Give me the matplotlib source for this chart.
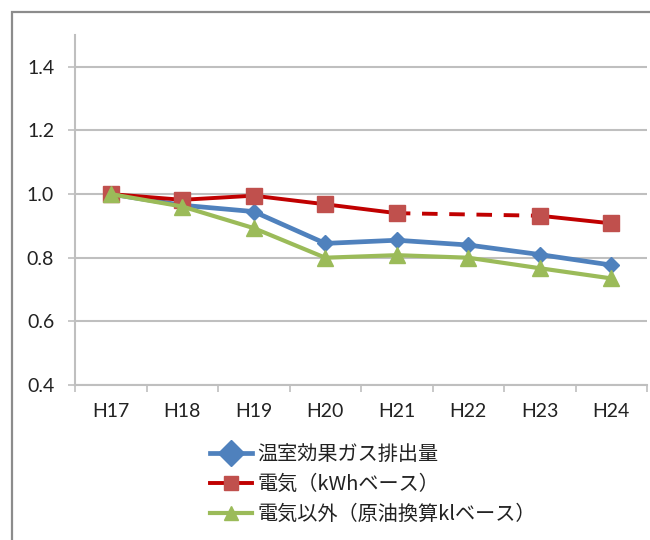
import numpy as np
import matplotlib
matplotlib.use("Agg")
import matplotlib.pyplot as plt
from matplotlib.lines import Line2D
from matplotlib.patches import Rectangle

# Fiscal years (Heisei era) and indexed values (H17 = 1.0)
years = ["H17", "H18", "H19", "H20", "H21", "H22", "H23", "H24"]
ghg = [1.000, 0.965, 0.945, 0.845, 0.855, 0.840, 0.810, 0.777]
electricity = [1.000, 0.982, 0.995, 0.968, 0.940, np.nan, 0.932, 0.908]
non_electric = [1.000, 0.961, 0.893, 0.800, 0.808, 0.800, 0.767, 0.735]

labels = ["温室効果ガス排出量", "電気（kWhベース）", "電気以外（原油換算klベース）"]
yticks = [0.4, 0.6, 0.8, 1.0, 1.2, 1.4]

BLUE = "#4F81BD"
RED_LINE = "#C00000"
RED_MARK = "#C0504D"
GREEN = "#9BBB59"
GRID = "#BFBFBF"
TEXT = "#222222"

plt.rcParams["font.family"] = ["Lato", "Noto Sans CJK JP", "DejaVu Sans"]

fig = plt.figure(figsize=(6.5, 5.4), dpi=100)
fig.patch.set_facecolor("white")

# chart frame (extends beyond the canvas on the right and bottom)
fig.patches.append(Rectangle((12 / 650, -0.05), 1.2, 1 - 12 / 540 + 0.05,
                             transform=fig.transFigure, fill=False,
                             edgecolor="#8C8C8C", linewidth=1.6, zorder=0))

ax = fig.add_axes([75 / 650, 155 / 540, 572 / 650, 350 / 540])
x = np.arange(len(years))

# GHG emissions
ax.plot(x, ghg, color=BLUE, lw=3.4, marker="D", ms=8,
        mfc=BLUE, mec=BLUE, zorder=3, solid_joinstyle="round")

# electricity: solid where data exist, dashed across the missing year
elec = np.array(electricity, dtype=float)
RED_LW = 2.8
ax.plot(x, elec, color=RED_LINE, lw=RED_LW, zorder=4, solid_joinstyle="round")
valid = np.where(~np.isnan(elec))[0]
for a, b in zip(valid[:-1], valid[1:]):
    if b - a > 1:
        ax.plot([x[a], x[b]], [elec[a], elec[b]], color=RED_LINE, lw=RED_LW,
                ls=(0.5, (4.0, 3.0)), zorder=4, dash_capstyle="butt")
ax.plot(x, elec, ls="none", marker="s", ms=11, mfc=RED_MARK, mec=RED_MARK,
        zorder=4.5)

# non-electric energy
ax.plot(x, non_electric, color=GREEN, lw=3.0, marker="^", ms=11.5,
        mfc=GREEN, mec=GREEN, zorder=5, solid_joinstyle="round")

ax.set_xlim(-0.5, len(years) - 0.5)
ax.set_ylim(0.4, 1.5)
ax.set_yticks(yticks)
ax.set_yticklabels([f"{v:.1f}" for v in yticks])
ax.set_xticks(x)
ax.set_xticklabels(years)
ax.set_xticks(np.arange(len(years) + 1) - 0.5, minor=True)

ax.grid(axis="y", color=GRID, lw=1.5, zorder=0)
ax.set_axisbelow(True)
for s in ("top", "right"):
    ax.spines[s].set_visible(False)
for s in ("left", "bottom"):
    ax.spines[s].set_color(GRID)
    ax.spines[s].set_linewidth(1.5)

ax.tick_params(axis="y", direction="out", length=5, width=1.2, color=GRID,
               pad=10, labelsize=14, labelcolor=TEXT)
ax.tick_params(axis="x", which="major", length=0, pad=13, labelsize=14,
               labelcolor=TEXT)
ax.tick_params(axis="x", which="minor", direction="out", length=5,
               width=1.2, color=GRID)

handles = [
    Line2D([], [], color=BLUE, lw=3.4, marker="D", ms=13, mfc=BLUE, mec=BLUE),
    Line2D([], [], color=RED_LINE, lw=RED_LW, marker="s", ms=10,
           mfc=RED_MARK, mec=RED_MARK),
    Line2D([], [], color=GREEN, lw=3.0, marker="^", ms=10, mfc=GREEN,
           mec=GREEN),
]
fig.legend(handles, labels, loc="upper left",
           bbox_to_anchor=(210 / 650, 1 - 444 / 540), frameon=False,
           prop={"family": ["Noto Sans CJK JP", "DejaVu Sans"], "size": 14.5},
           handlelength=2.1, handletextpad=0.25, labelspacing=0.45,
           borderpad=0, borderaxespad=0, labelcolor=TEXT)

fig.savefig("out.png", dpi=100, facecolor="white")
